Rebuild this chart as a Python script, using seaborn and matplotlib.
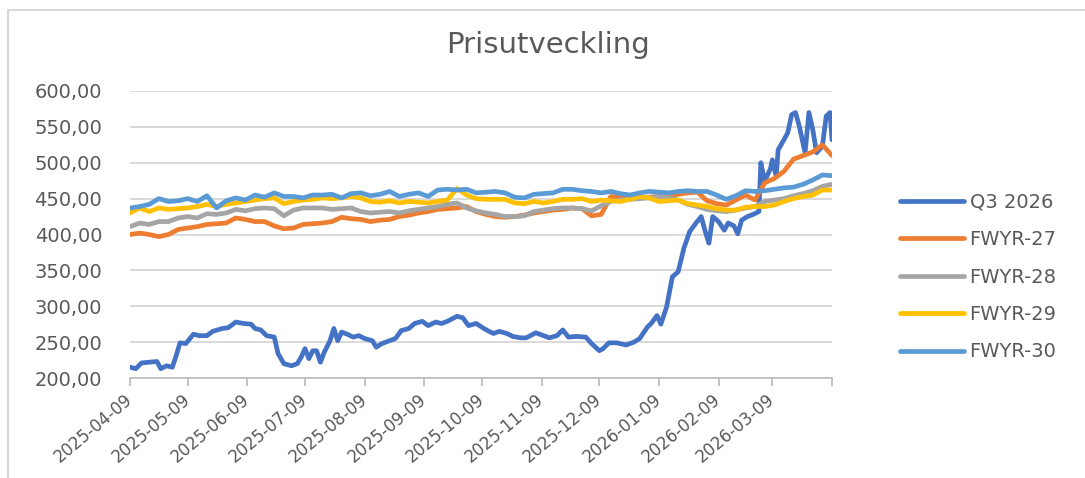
import matplotlib
matplotlib.use("Agg")
import matplotlib.pyplot as plt
import matplotlib.ticker as mticker
from matplotlib.lines import Line2D
import seaborn as sns
import numpy as np
import pandas as pd

start = pd.Timestamp("2025-04-09")
end = pd.Timestamp("2026-04-09")

series_names = ["Q3 2026", "FWYR-27", "FWYR-28", "FWYR-29", "FWYR-30"]
colors = ["#4472C4", "#ED7D31", "#A5A5A5", "#FFC000", "#5B9BD5"]

# Q3 2026, day offsets from start and price
q3_days = [0, 3, 6, 10, 14, 16, 19, 22, 24, 26, 29, 33, 36, 40, 43, 48, 51, 55, 59, 63,
           65, 68, 71, 75, 77, 80, 84, 87, 89, 91, 93, 95, 97, 99, 101, 104, 106, 108, 110, 113,
           116, 119, 122, 126, 128, 131, 134, 138, 141, 145, 148, 152, 155, 159, 162, 165, 170, 173, 176, 180,
           184, 186, 189, 192, 196, 199, 203, 206, 211, 215, 218, 222, 225, 228, 232, 237, 240, 244, 246, 249,
           253, 258, 262, 265, 269, 271, 274, 276, 279, 282, 285, 288, 291, 294, 297, 299, 301, 303, 306, 309,
           311, 314, 316, 318, 321, 324, 327, 328, 330, 333, 334, 336, 337, 340, 342, 344, 346, 348, 351, 353,
           355, 357, 360, 362, 364, 365]
q3_vals = [215, 213, 221, 222, 223, 213, 217, 215, 231, 249, 248, 261, 259, 259, 265, 269, 270, 278, 276, 275,
           269, 267, 259, 257, 234, 220, 217, 220, 229, 241, 227, 238, 238, 222, 236, 252, 269, 252, 264, 261,
           257, 259, 255, 252, 243, 248, 251, 255, 266, 269, 276, 279, 273, 278, 276, 279, 286, 284, 273, 276,
           269, 266, 262, 265, 262, 258, 256, 256, 263, 259, 256, 259, 267, 257, 258, 257, 248, 238, 241, 249,
           249, 246, 250, 255, 271, 276, 287, 275, 299, 341, 348, 381, 404, 415, 425, 405, 388, 425, 418, 406,
           416, 412, 401, 420, 425, 428, 432, 500, 474, 492, 504, 481, 518, 532, 542, 567, 570, 551, 514, 570,
           546, 514, 523, 565, 570, 532]

# FWYR series, every 5 days from start
fw_days = list(range(0, 366, 5))
fwyr27 = [400, 402, 400, 397, 400, 407, 409, 411, 414, 415, 416, 423, 421, 418, 418, 412, 408, 409, 414, 415,
          416, 418, 424, 422, 421, 418, 420, 421, 425, 427, 430, 432, 435, 436, 437, 439, 432, 428, 425, 424,
          425, 427, 430, 432, 434, 435, 437, 436, 426, 428, 453, 452, 450, 451, 452, 453, 454, 456, 458, 459,
          447, 443, 441, 448, 455, 448, 472, 478, 488, 505, 510, 515, 525, 510]
fwyr28 = [411, 416, 414, 418, 418, 423, 425, 423, 429, 428, 430, 435, 433, 436, 437, 436, 426, 434, 437, 437,
          437, 435, 436, 437, 432, 430, 431, 432, 430, 433, 435, 437, 439, 442, 444, 437, 433, 430, 428, 425,
          425, 426, 432, 434, 436, 437, 437, 436, 433, 440, 446, 448, 449, 450, 451, 453, 451, 448, 442, 439,
          435, 433, 432, 434, 437, 439, 446, 448, 450, 454, 457, 461, 467, 470]
fwyr29 = [430, 437, 432, 437, 435, 436, 437, 439, 442, 439, 442, 444, 446, 448, 450, 451, 443, 446, 448, 449,
          451, 450, 451, 453, 451, 446, 445, 447, 444, 446, 445, 444, 446, 448, 464, 455, 450, 449, 449, 449,
          444, 443, 446, 444, 446, 449, 449, 450, 446, 448, 447, 446, 449, 453, 451, 446, 447, 448, 443, 441,
          439, 436, 434, 434, 438, 439, 439, 441, 446, 450, 453, 455, 462, 462]
fwyr30 = [437, 439, 442, 450, 446, 447, 450, 446, 454, 437, 447, 451, 448, 455, 452, 458, 453, 453, 451, 455,
          455, 456, 451, 457, 458, 454, 456, 460, 453, 456, 458, 453, 462, 463, 462, 463, 458, 459, 460, 458,
          452, 451, 456, 457, 458, 463, 463, 461, 460, 458, 460, 457, 455, 458, 460, 459, 458, 460, 461, 460,
          460, 455, 449, 454, 461, 460, 461, 463, 465, 466, 470, 476, 483, 482]

frames = [pd.DataFrame({"date": start + pd.to_timedelta(q3_days, unit="D"),
                        "price": q3_vals, "series": "Q3 2026"})]
for name, vals in zip(series_names[1:], [fwyr27, fwyr28, fwyr29, fwyr30]):
    frames.append(pd.DataFrame({"date": start + pd.to_timedelta(fw_days, unit="D"),
                                "price": vals, "series": name}))
df = pd.concat(frames, ignore_index=True)

sns.set_theme(style="white")
plt.rcParams["font.family"] = ["DejaVu Sans"]
txt = "#595959"

fig = plt.figure(figsize=(10.85, 4.78), dpi=100)
ax = fig.add_axes([130 / 1085, 1 - 378 / 478, 702 / 1085, 287 / 478])

sns.lineplot(data=df, x="date", y="price", hue="series", hue_order=series_names,
             palette=colors, linewidth=3.4, ax=ax, legend=True)

ax.set_xlim(start, end)
ax.set_ylim(200, 600)
ax.set_yticks(range(200, 601, 50))
ax.yaxis.set_major_formatter(mticker.FuncFormatter(lambda v, p: f"{v:.2f}".replace(".", ",")))
ax.grid(axis="y", color="#D9D9D9", linewidth=1.4)
ax.set_axisbelow(True)

ticks = [start + pd.DateOffset(months=i) for i in range(12)]
ax.set_xticks(ticks)
ax.set_xticklabels([t.strftime("%Y-%m-%d") for t in ticks], rotation=40,
                   ha="right", va="center", rotation_mode="anchor")
ax.set_xticks([end], minor=True)
ax.tick_params(axis="x", which="both", direction="out", length=6, width=1.3,
               color="#BFBFBF", labelcolor=txt, labelsize=12, pad=8, bottom=True)
ax.tick_params(axis="y", length=0, labelcolor=txt, labelsize=14, pad=20)

for s in ["top", "right", "left"]:
    ax.spines[s].set_visible(False)
ax.spines["bottom"].set_color("#BFBFBF")
ax.spines["bottom"].set_linewidth(1.3)
ax.set_xlabel("")
ax.set_ylabel("")

handles, labels = ax.get_legend_handles_labels()
for h in handles:
    h.set_linewidth(3.4)
    h.set_solid_capstyle("round")
ax.legend(handles, labels, loc="center left", bbox_to_anchor=(882 / 1085, 1 - 277 / 478),
          bbox_transform=fig.transFigure, frameon=False, fontsize=14, labelcolor=txt,
          handlelength=3.3, handletextpad=0.3, labelspacing=0.95)

fig.text(0.505, 0.905, "Prisutveckling", ha="center", va="center", fontsize=21, color=txt)

# chart area border
fig.add_artist(Line2D([8 / 1085, 8 / 1085], [0, 1 - 10 / 478], transform=fig.transFigure,
                      color="#D9D9D9", linewidth=1.5))
fig.add_artist(Line2D([8 / 1085, 1], [1 - 10 / 478, 1 - 10 / 478], transform=fig.transFigure,
                      color="#D9D9D9", linewidth=1.5))

fig.savefig("out.png", dpi=100)
